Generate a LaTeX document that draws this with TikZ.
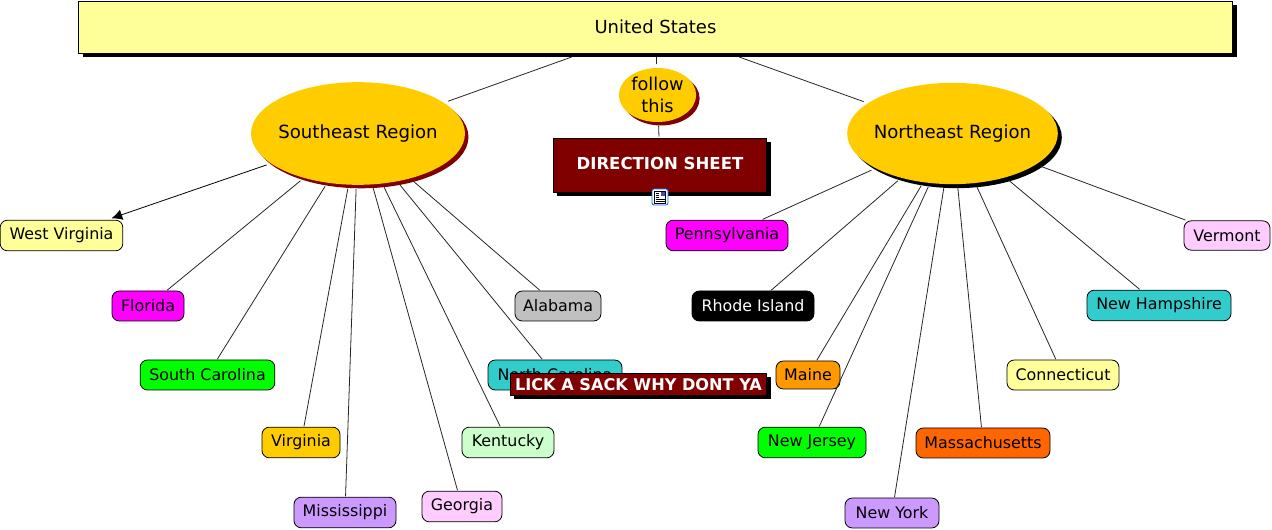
\documentclass[tikz,border=0pt]{standalone}
\usepackage{fontspec}
\setmainfont{DejaVu Sans}
\usetikzlibrary{arrows.meta,shapes.geometric,shadows}
\definecolor{mapyellow}{RGB}{255,255,153}
\definecolor{maporange}{RGB}{255,204,0}
\definecolor{mapmaroon}{RGB}{128,0,0}
\definecolor{mapteal}{RGB}{51,204,204}
\definecolor{mappink}{RGB}{255,204,255}
\definecolor{mappurple}{RGB}{204,153,255}
\definecolor{mapmint}{RGB}{204,255,204}
\definecolor{mapamber}{RGB}{255,153,0}
\definecolor{mapflame}{RGB}{255,102,0}
\definecolor{mapmagenta}{RGB}{255,0,255}
\definecolor{mapsilver}{RGB}{192,192,192}
\tikzset{
  leafbox/.style={draw=black, line width=0.6pt, rounded corners=5.5pt, inner sep=0pt,
    font=\fontsize{11.9pt}{13pt}\selectfont, outer sep=0.6pt},
  regionell/.style={ellipse, draw=none, fill=maporange, inner xsep=-6pt, inner ysep=0pt, outer sep=3pt,
    font=\fontsize{13.6pt}{16pt}\selectfont},
  maroonshadow/.style={drop shadow={shadow xshift=2.6pt, shadow yshift=-2.6pt, fill=mapmaroon, opacity=1}},
  blackshadow/.style={drop shadow={shadow xshift=3pt, shadow yshift=-3pt, fill=black, opacity=1}},
  linkln/.style={line width=0.6pt, black!85},
}
\begin{document}
\begin{tikzpicture}[x=0.75pt, y=-0.75pt]
  \useasboundingbox (0,0) rectangle (1272,530);
  % top of the map
  \node[draw=black, line width=0.6pt, fill=mapyellow, blackshadow, minimum width=865.5pt, minimum height=39pt,
    inner sep=0pt, outer sep=3pt, font=\fontsize{13.5pt}{15pt}\selectfont] (us) at (655.5,27) {United States};
  \node[regionell, maroonshadow, minimum width=160.5pt, minimum height=77pt] (se) at (358,133.5) {Southeast Region};
  \node[regionell, blackshadow, minimum width=158pt, minimum height=76pt] (ne) at (952.5,133.5) {Northeast Region};
  \node[regionell, maroonshadow, minimum width=58pt, minimum height=40.5pt, align=center,
    font=\fontsize{13.3pt}{16.5pt}\selectfont] (follow) at (657.5,95) {follow\\this};
  \node[draw=black, line width=0.6pt, fill=mapmaroon, blackshadow, minimum width=160pt, minimum height=40.5pt,
    inner sep=0pt, outer sep=1pt, text=white, font=\fontsize{12.4pt}{14pt}\selectfont\bfseries] (direction) at (660,165)
    {\raisebox{2.5pt}{DIRECTION SHEET}};
  % left leaves
  \node[leafbox, fill=mapyellow, minimum width=92pt, minimum height=23pt] (wv) at (61.5,235.5) {West Virginia};
  \node[leafbox, fill=mapmagenta, minimum width=54pt, minimum height=22.5pt] (fl) at (148,306) {Florida};
  \node[leafbox, fill=green, minimum width=101pt, minimum height=22.5pt] (sc) at (207.5,375) {South Carolina};
  \node[leafbox, fill=maporange, minimum width=58.5pt, minimum height=23pt] (va) at (301,442.5) {Virginia};
  \node[leafbox, fill=mappurple, minimum width=76.5pt, minimum height=23pt] (ms) at (345,512.5) {Mississippi};
  \node[leafbox, fill=mappink, minimum width=60pt, minimum height=23pt] (ga) at (462,506.5) {Georgia};
  \node[leafbox, fill=mapmint, minimum width=69pt, minimum height=23pt] (ky) at (508,442.5) {Kentucky};
  \node[leafbox, fill=mapteal, minimum width=100.5pt, minimum height=22.5pt] (nc) at (555,375) {North Carolina};
  \node[leafbox, fill=mapsilver, minimum width=64.5pt, minimum height=22.5pt] (al) at (558,306) {Alabama};
  % right leaves
  \node[leafbox, fill=mapmagenta, minimum width=91.5pt, minimum height=23pt] (pa) at (727,235.5) {Pennsylvania};
  \node[leafbox, fill=black, text=white, minimum width=91.5pt, minimum height=22.5pt] (ri) at (753,306) {Rhode Island};
  \node[leafbox, fill=mapamber, minimum width=48pt, minimum height=21pt] (me) at (808,375) {Maine};
  \node[leafbox, fill=green, minimum width=81pt, minimum height=23pt] (nj) at (812,442.5) {New Jersey};
  \node[leafbox, fill=mappurple, minimum width=70.5pt, minimum height=22.5pt] (ny) at (892,513) {New York};
  \node[leafbox, fill=mapflame, minimum width=100.5pt, minimum height=22.5pt] (ma) at (983,443) {Massachusetts};
  \node[leafbox, fill=mapyellow, minimum width=84pt, minimum height=22.5pt] (ct) at (1063,375) {Connecticut};
  \node[leafbox, fill=mapteal, minimum width=108pt, minimum height=23pt] (nh) at (1159,305.5) {New Hampshire};
  \node[leafbox, fill=mappink, minimum width=64.5pt, minimum height=22pt] (vt) at (1227,235.5) {Vermont};
  % links
  \draw[linkln] (us) -- (se);
  \draw[linkln] (us) -- (ne);
  \draw[linkln] (us) -- (follow);
  \draw[linkln] (follow) -- (direction);
  \draw[linkln, -{Latex[length=8pt,width=8pt]}, black, shorten >=2.5pt] (se) -- (wv);
  \foreach \leaf in {fl,sc,va,ms,ga,ky,nc,al} {
    \draw[linkln] (se) -- (\leaf);
  }
  \foreach \leaf in {pa,ri,me,nj,ny,ma,ct,nh,vt} {
    \draw[linkln] (ne) -- (\leaf);
  }
  % resource icon under the sheet
  \draw[draw=blue!60!cyan, fill=white, line width=0.6pt, rounded corners=1.5pt] (652,189) rectangle (668,205);
  \draw[draw=black, fill=white, line width=0.5pt] (654.5,191) rectangle (665.5,203);
  \fill[blue!40!gray] (660.5,192) rectangle (664.5,196.5);
  \foreach \rowy in {193,195,197} {
    \draw[line width=0.4pt] (655.5,\rowy) -- (659,\rowy);
  }
  \foreach \rowy in {199,201} {
    \draw[line width=0.4pt] (655.5,\rowy) -- (664.5,\rowy);
  }
  % banner over North Carolina
  \node[draw=black, line width=0.6pt, fill=mapmaroon, blackshadow, minimum width=192.5pt, minimum height=16.5pt,
    inner sep=0pt, text=white, font=\fontsize{12.1pt}{14pt}\selectfont\bfseries] (banner) at (638.5,384.5) {LICK A SACK WHY DONT YA};
\end{tikzpicture}
\end{document}
